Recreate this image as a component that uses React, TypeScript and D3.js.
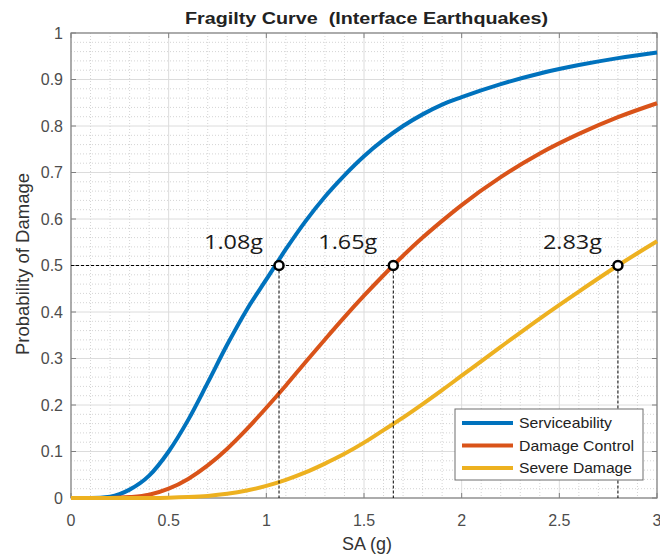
import React from 'react'
import * as d3 from 'd3'

// SA (g) sample points and probabilities
const saValues = [0, 0.1, 0.2, 0.3, 0.4, 0.5, 0.6, 0.7, 0.8, 0.9, 1.0, 1.1, 1.2, 1.3, 1.4, 1.5, 1.6, 1.7, 1.8, 1.9, 2.0, 2.2, 2.4, 2.6, 2.8, 3.0]
const serviceability = [0, 0, 0.003, 0.018, 0.048, 0.1, 0.168, 0.248, 0.33, 0.405, 0.47, 0.535, 0.595, 0.648, 0.694, 0.735, 0.77, 0.8, 0.825, 0.846, 0.862, 0.89, 0.913, 0.931, 0.946, 0.958]
const damageControl = [0, 0, 0.0002, 0.002, 0.007, 0.02, 0.041, 0.07, 0.106, 0.148, 0.194, 0.242, 0.292, 0.341, 0.389, 0.435, 0.479, 0.521, 0.56, 0.596, 0.63, 0.69, 0.741, 0.783, 0.819, 0.849]
const severeDamage = [0, 0, 0, 0, 0.0001, 0.0006, 0.002, 0.0045, 0.009, 0.016, 0.026, 0.039, 0.055, 0.074, 0.095, 0.119, 0.146, 0.173, 0.202, 0.232, 0.263, 0.325, 0.386, 0.444, 0.5, 0.552]

const seriesNames = ['Serviceability', 'Damage Control', 'Severe Damage']
const seriesColors = ['#0072BD', '#D95319', '#EDB120']

// 50% points marked on the curves
const medianSA = [1.065, 1.65, 2.8]
const medianLabels = ['1.08g', '1.65g', '2.83g']

const xTicks = [0, 0.5, 1, 1.5, 2, 2.5, 3]
const yTicks = [0, 0.1, 0.2, 0.3, 0.4, 0.5, 0.6, 0.7, 0.8, 0.9, 1]

const W = 660
const H = 559
const left = 71
const right = 657
const top = 33
const bottom = 498

export default function App() {
  const x = d3.scaleLinear().domain([0, 3]).range([left, right])
  const y = d3.scaleLinear().domain([0, 1]).range([bottom, top])

  const seriesData = [serviceability, damageControl, severeDamage]
  const line = d3.line<number>()
    .x((_, i) => x(saValues[i]))
    .y(d => y(d))
    .curve(d3.curveMonotoneX)

  const xMinor = d3.range(0, 3.0001, 0.1).filter(v => Math.abs(v * 2 - Math.round(v * 2)) > 1e-6)
  const yMinor = d3.range(0, 1.0001, 0.02).filter(v => Math.abs(v * 10 - Math.round(v * 10)) > 1e-6)

  const font = '"Liberation Sans", Arial, sans-serif'
  const tickColor = '#4d4d4d'
  const axisColor = '#808080'
  const legendW = [93, 115, 113]

  return (
    <svg width={W} height={H} style={{ position: 'absolute', left: 0, top: 0, background: '#fff' }} fontFamily={font}>
      <rect x={0} y={0} width={W} height={H} fill="#fff" />
      {/* minor grid */}
      {xMinor.map(v => (
        <line key={'xm' + v} x1={x(v)} x2={x(v)} y1={top} y2={bottom} stroke="#d4d4d4" strokeWidth={1} strokeDasharray="1,2" />
      ))}
      {yMinor.map(v => (
        <line key={'ym' + v} x1={left} x2={right} y1={y(v)} y2={y(v)} stroke="#d4d4d4" strokeWidth={1} strokeDasharray="1,2" />
      ))}
      {/* major grid */}
      {xTicks.map(v => (
        <line key={'xg' + v} x1={x(v)} x2={x(v)} y1={top} y2={bottom} stroke="#dcdcdc" strokeWidth={1} />
      ))}
      {yTicks.map(v => (
        <line key={'yg' + v} x1={left} x2={right} y1={y(v)} y2={y(v)} stroke="#dcdcdc" strokeWidth={1} />
      ))}

      {/* axes box and ticks */}
      <rect x={left} y={top} width={right - left} height={bottom - top} fill="none" stroke={axisColor} strokeWidth={1.2} />
      {xTicks.map(v => (
        <g key={'xt' + v}>
          <line x1={x(v)} x2={x(v)} y1={bottom} y2={bottom - 5} stroke={axisColor} />
          <line x1={x(v)} x2={x(v)} y1={top} y2={top + 5} stroke={axisColor} />
          <text x={x(v)} y={bottom + 28} textAnchor="middle" fontSize={16} fill={tickColor}>{d3.format('~g')(v)}</text>
        </g>
      ))}
      {yTicks.map(v => (
        <g key={'yt' + v}>
          <line x1={left} x2={left + 5} y1={y(v)} y2={y(v)} stroke={axisColor} />
          <line x1={right} x2={right - 5} y1={y(v)} y2={y(v)} stroke={axisColor} />
          <text x={left - 8} y={y(v)} dy="0.35em" textAnchor="end" fontSize={16} fill={tickColor}>{d3.format('~g')(v)}</text>
        </g>
      ))}

      {/* curves */}
      {seriesData.map((s, i) => (
        <path key={'s' + i} d={line(s) || ''} fill="none" stroke={seriesColors[i]} strokeWidth={4} strokeLinejoin="round" />
      ))}

      {/* dashed guides at 50% */}
      <line x1={x(0)} x2={x(medianSA[2])} y1={y(0.5)} y2={y(0.5)} stroke="#000" strokeWidth={1} strokeDasharray="3,2" />
      {medianSA.map(v => (
        <line key={'vd' + v} x1={x(v)} x2={x(v)} y1={y(0.5)} y2={y(0)} stroke="#000" strokeWidth={1} strokeDasharray="3,2" />
      ))}
      {medianSA.map(v => (
        <circle key={'pt' + v} cx={x(v)} cy={y(0.5)} r={4.5} fill="#fff" stroke="#000" strokeWidth={2.5} />
      ))}
      {medianSA.map((v, i) => (
        <text key={'lb' + v} x={x(v) - 75} y={y(0.5) - 17} fontSize={20} fill="#1a1a1a" textLength={59} lengthAdjust="spacingAndGlyphs"
          fontFamily='"Open Sans", "Noto Sans", sans-serif'>{medianLabels[i]}</text>
      ))}

      {/* legend */}
      <g>
        <rect x={455} y={409} width={188} height={71} fill="#fff" stroke="#6e6e6e" strokeWidth={1} />
        {seriesNames.map((n, i) => (
          <g key={'lg' + n}>
            <line x1={462} x2={513} y1={423 + i * 22.5} y2={423 + i * 22.5} stroke={seriesColors[i]} strokeWidth={4} />
            <text x={519} y={423 + i * 22.5} dy="0.36em" fontSize={15} fill="#222" textLength={legendW[i]} lengthAdjust="spacingAndGlyphs">{n}</text>
          </g>
        ))}
      </g>

      {/* titles */}
      <text x={185} y={23.5} fontSize={16} fontWeight="bold" fill="#222" textLength={363} lengthAdjust="spacingAndGlyphs"
        style={{ whiteSpace: 'pre' }}>{'Fragilty Curve  (Interface Earthquakes)'}</text>
      <text x={367} y={550} textAnchor="middle" fontSize={18} fill="#333">SA (g)</text>
      <text transform={`translate(29,${264}) rotate(-90)`} textAnchor="middle" fontSize={18.5} fill="#333">Probability of Damage</text>
    </svg>
  )
}
